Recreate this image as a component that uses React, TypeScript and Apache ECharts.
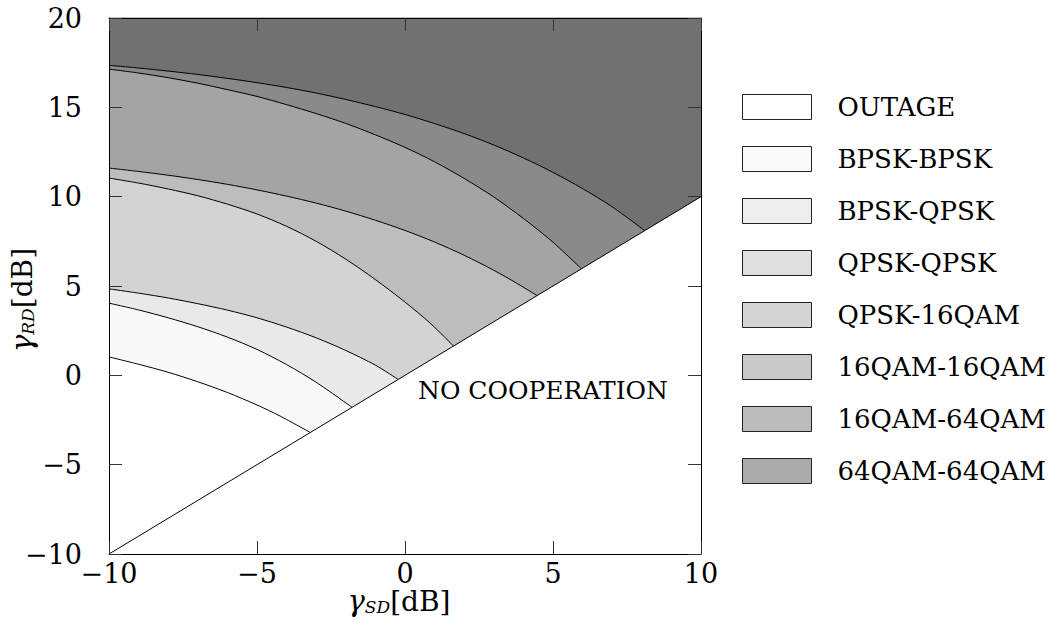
import React, { useEffect, useRef } from "react";
import * as echarts from "echarts";

const F = "DejaVu Serif";

// Region names (legend order)
const categories = [
  "OUTAGE",
  "BPSK-BPSK",
  "BPSK-QPSK",
  "QPSK-QPSK",
  "QPSK-16QAM",
  "16QAM-16QAM",
  "16QAM-64QAM",
  "64QAM-64QAM",
];

// Upper boundary of each region, [γSD dB, γRD dB]
const outageTop = [[-10, 1.03], [-9, 0.62], [-8, 0.17], [-7, -0.36], [-6, -0.96], [-5, -1.66], [-4.22, -2.28], [-3.2, -3.2]];
const bpskBpskTop = [[-10, 4.04], [-9, 3.66], [-8, 3.22], [-7, 2.72], [-6, 2.14], [-5, 1.45], [-4, 0.6], [-3, -0.39], [-1.79, -1.79]];
const bpskQpskTop = [[-10, 4.84], [-9, 4.6], [-8, 4.33], [-7, 4.01], [-6, 3.65], [-5, 3.22], [-4, 2.7], [-3, 2.1], [-2, 1.39], [-1, 0.57], [-0.23, -0.23]];
const qpskQpskTop = [[-10, 11.04], [-9, 10.76], [-8, 10.43], [-7, 10.05], [-6, 9.58], [-5, 9.03], [-4, 8.34], [-3, 7.5], [-2, 6.5], [-1, 5.36], [0, 4.1], [0.85, 2.92], [1.64, 1.64]];
const qpsk16Top = [[-10, 11.6], [-9, 11.41], [-8, 11.2], [-7, 10.96], [-6, 10.69], [-5, 10.38], [-4, 10.03], [-3, 9.64], [-2, 9.19], [-1, 8.68], [0, 8.11], [1, 7.46], [2, 6.72], [3, 5.88], [3.8, 5.13], [4.46, 4.46]];
const qam16Top = [[-10, 17.14], [-9, 16.92], [-8, 16.66], [-7, 16.35], [-6, 15.99], [-5, 15.61], [-4, 15.15], [-3, 14.65], [-2, 14.1], [-1, 13.46], [0, 12.76], [1, 11.95], [2, 11.02], [3, 9.98], [4, 8.78], [5, 7.45], [5.96, 5.96]];
const qam1664Top = [[-10, 17.35], [-9, 17.2], [-8, 17.03], [-7, 16.84], [-6, 16.62], [-5, 16.38], [-4, 16.11], [-3, 15.8], [-2, 15.44], [-1, 15.04], [0, 14.6], [1, 14.09], [2, 13.53], [3, 12.89], [4, 12.17], [5, 11.36], [6, 10.45], [7, 9.43], [8.1, 8.1]];
const qam64Top = [[-10, 20], [10, 20]];
const noCoopBoundary = [[-10, -10], [10, 10]];

const boundaries = [outageTop, bpskBpskTop, bpskQpskTop, qpskQpskTop, qpsk16Top, qam16Top, qam1664Top, qam64Top];

const regionColors = ["#ffffff", "#f8f8f8", "#e9e9e9", "#d3d3d3", "#bdbdbd", "#a4a4a4", "#8a8a8a", "#717171"];
const legendColors = ["#ffffff", "#f9f9f9", "#eeeeee", "#e0e0e0", "#d5d5d5", "#c9c9c9", "#bcbcbc", "#ababab"];

const xTicks = { min: -10, max: 10, interval: 5 };
const yTicks = { min: -10, max: 20, interval: 5 };

const fmt = (v: number) => String(v).replace("-", "\u2212");

const nameRich = {
  g: { fontFamily: F, fontStyle: "italic", fontSize: 29, lineHeight: 24, verticalAlign: "bottom", color: "#000" },
  s: { fontFamily: F, fontStyle: "italic", fontSize: 17, lineHeight: 13, verticalAlign: "bottom", color: "#000" },
  n: { fontFamily: F, fontSize: 28, lineHeight: 24, verticalAlign: "bottom", color: "#000" },
};

function buildOption() {
  const axisCommon = {
    type: "value" as const,
    z: 50,
    splitLine: { show: false },
    axisLine: { show: true, onZero: false, lineStyle: { color: "#000", width: 1 } },
    axisTick: { show: true, inside: true, length: 13, lineStyle: { color: "#333", width: 1 } },
  };
  const series: any[] = [];
  // draw from top (largest) region down so lighter regions overlay
  for (let i = boundaries.length - 1; i >= 0; i--) {
    series.push({
      type: "line",
      name: categories[i],
      data: boundaries[i],
      z: 10 + (boundaries.length - i),
      showSymbol: false,
      symbol: "none",
      smooth: 0.3,
      lineStyle: { color: "#000", width: 1 },
      itemStyle: { color: regionColors[i] },
      areaStyle: { color: regionColors[i], opacity: 1, origin: "start" },
      silent: true,
    });
  }
  series.push({
    type: "line",
    name: "NO COOPERATION",
    data: noCoopBoundary,
    z: 30,
    showSymbol: false,
    symbol: "none",
    lineStyle: { color: "#000", width: 1 },
    areaStyle: { color: "#ffffff", opacity: 1, origin: "start" },
    silent: true,
  });

  return {
    animation: false,
    backgroundColor: "#ffffff",
    grid: { left: 109, top: 18, right: 351, bottom: 76, containLabel: false, outerBoundsMode: "none" },
    xAxis: [
      {
        ...axisCommon,
        position: "bottom",
        ...xTicks,
        axisLabel: { formatter: fmt, fontFamily: F, fontSize: 27, lineHeight: 24, color: "#000", margin: 7 },
        name: "{g|γ}{s|SD}{n|[dB]}",
        nameLocation: "middle",
        nameGap: 37,
        nameMoveOverlap: false,
        nameTextStyle: { rich: nameRich, padding: [0, 12, 0, 0] },
      },
      { ...axisCommon, position: "top", ...xTicks, axisLabel: { show: false } },
    ],
    yAxis: [
      {
        ...axisCommon,
        position: "left",
        ...yTicks,
        axisLabel: { formatter: fmt, fontFamily: F, fontSize: 27, color: "#000", margin: 27 },
        name: "{g|γ}{s|RD}{n|[dB]}",
        nameLocation: "middle",
        nameGap: 73,
        nameMoveOverlap: false,
        nameTextStyle: { rich: nameRich, padding: [0, 28, 0, 0] },
      },
      { ...axisCommon, position: "right", ...yTicks, axisLabel: { show: false } },
    ],
    legend: {
      orient: "vertical",
      left: 742,
      top: 94,
      padding: 0,
      itemWidth: 69,
      itemHeight: 25,
      itemGap: 26,
      icon: "rect",
      selectedMode: false,
      itemStyle: { borderColor: "#222", borderWidth: 1 },
      textStyle: { fontFamily: F, fontSize: 26, color: "#000", lineHeight: 25, padding: [0, 0, 0, 21] },
      data: categories.map((c, i) => ({ name: c, itemStyle: { color: legendColors[i], borderColor: "#222", borderWidth: 1 } })),
    },
    graphic: [
      {
        type: "text",
        left: 418,
        top: 378,
        z: 100,
        style: { text: "NO COOPERATION", fontFamily: F, fontSize: 25, fill: "#000" },
      },
    ],
    series,
  };
}

export default function App() {
  const ref = useRef<HTMLDivElement>(null);
  useEffect(() => {
    if (!ref.current) return;
    const chart = echarts.init(ref.current, null, { renderer: "svg" });
    chart.setOption(buildOption() as any);
    return () => chart.dispose();
  }, []);
  return <div ref={ref} style={{ position: "fixed", left: 0, top: 0, width: 1052, height: 630 }} />;
}
